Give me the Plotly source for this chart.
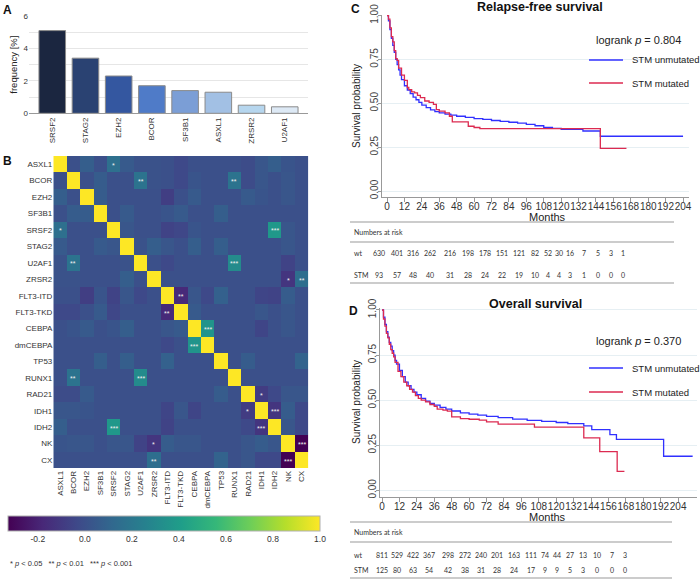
import plotly.graph_objects as go

W, H = 700, 586
def px(x): return x / W
def py(y): return 1 - y / H

# ---------------- DATA ----------------
genes_a = ["SRSF2", "STAG2", "EZH2", "BCOR", "SF3B1", "ASXL1", "ZRSR2", "U2AF1"]
freq_a = [5.1, 3.4, 2.3, 1.7, 1.4, 1.3, 0.5, 0.4]
bar_colors = ["#1b2640", "#2a4272", "#3457a0", "#4f7bc8", "#7b9ed6", "#a2c0e4", "#b6d6ee", "#dde9f5"]

hm_labels = ["ASXL1", "BCOR", "EZH2", "SF3B1", "SRSF2", "STAG2", "U2AF1", "ZRSR2",
             "FLT3-ITD", "FLT3-TKD", "CEBPA", "dmCEBPA", "TP53", "RUNX1", "RAD21",
             "IDH1", "IDH2", "NK", "CX"]
# lower triangle of correlation matrix (row i, cols 0..i-1)
corr_lower = [
    [],
    [0.00],
    [0.07, 0.00],
    [0.00, 0.06, 0.06],
    [0.16, 0.00, 0.00, 0.00],
    [0.05, 0.00, 0.00, 0.05, 0.03],
    [0.01, 0.18, 0.00, 0.00, 0.00, 0.01],
    [0.01, 0.01, 0.00, 0.00, 0.00, 0.07, 0.00],
    [0.00, 0.00, -0.08, 0.02, -0.06, 0.03, -0.03, 0.00],
    [-0.03, -0.03, 0.00, 0.05, -0.04, 0.00, 0.00, 0.00, -0.17],
    [0.00, 0.02, 0.05, 0.00, 0.02, 0.07, 0.00, 0.00, 0.03, 0.05],
    [0.00, 0.00, 0.00, 0.00, 0.00, 0.00, 0.00, 0.00, -0.03, 0.00, 0.36],
    [0.00, 0.00, 0.00, 0.07, 0.00, 0.07, 0.00, 0.00, 0.08, 0.00, 0.00, 0.00],
    [0.00, 0.18, 0.00, 0.00, 0.00, 0.00, 0.31, 0.00, 0.00, 0.00, 0.00, 0.00, 0.00],
    [-0.02, -0.02, 0.05, 0.00, 0.00, 0.00, 0.00, 0.00, 0.00, 0.00, 0.00, 0.00, 0.06, 0.00],
    [0.03, 0.03, 0.02, 0.00, 0.00, 0.00, 0.00, 0.00, -0.05, 0.03, -0.05, 0.00, 0.00, 0.00, -0.09],
    [0.07, 0.00, 0.00, 0.00, 0.38, 0.00, 0.00, 0.00, -0.06, 0.00, 0.00, 0.00, 0.00, 0.00, -0.03, -0.12],
    [0.02, 0.03, 0.03, 0.00, 0.03, 0.03, -0.06, -0.12, 0.06, 0.03, 0.03, 0.00, 0.00, 0.00, 0.03, 0.06, 0.03],
    [0.00, 0.00, 0.00, 0.00, 0.00, 0.00, 0.00, 0.15, 0.00, 0.00, 0.00, 0.00, 0.09, 0.00, 0.03, -0.03, -0.03, -0.33],
]
sig_pairs = [("SRSF2", "ASXL1", "*"), ("U2AF1", "BCOR", "**"), ("RUNX1", "BCOR", "**"),
             ("IDH2", "SRSF2", "***"), ("RUNX1", "U2AF1", "***"), ("NK", "ZRSR2", "*"),
             ("CX", "ZRSR2", "**"), ("FLT3-TKD", "FLT3-ITD", "**"), ("dmCEBPA", "CEBPA", "***"),
             ("IDH1", "RAD21", "*"), ("IDH2", "IDH1", "***"), ("CX", "NK", "***")]
cb_ticks = [-0.2, 0.0, 0.2, 0.4, 0.6, 0.8, 1.0]

# Relapse-free survival
rfs_wt_t = [0, 1, 2, 3, 4, 5, 6, 7, 8, 9, 10, 12, 14, 16, 18, 20, 22, 24, 27, 30, 33, 36, 40, 44, 48,
            54, 60, 66, 72, 78, 84, 90, 96, 102, 108, 114, 120, 135, 147, 204]
rfs_wt_s = [1.0, 0.97, 0.92, 0.87, 0.83, 0.79, 0.75, 0.72, 0.69, 0.66, 0.635, 0.60, 0.575, 0.555, 0.535,
            0.52, 0.505, 0.49, 0.475, 0.462, 0.452, 0.445, 0.438, 0.432, 0.426, 0.42, 0.413, 0.408, 0.402,
            0.397, 0.392, 0.387, 0.38, 0.372, 0.362, 0.357, 0.352, 0.342, 0.312, 0.312]
rfs_mut_t = [0, 1, 2, 3, 4, 5, 6, 7, 8, 10, 12, 14, 15, 17, 19, 21, 23, 26, 29, 32, 34, 36, 40, 43,
             45, 56, 60, 64, 147, 165]
rfs_mut_s = [1.0, 0.98, 0.93, 0.88, 0.85, 0.80, 0.755, 0.745, 0.70, 0.66, 0.63, 0.59, 0.578, 0.565,
             0.559, 0.545, 0.532, 0.513, 0.505, 0.494, 0.464, 0.455, 0.445, 0.426, 0.394, 0.369, 0.362,
             0.356, 0.243, 0.243]
# Overall survival
os_wt_t = [0, 1, 2, 3, 4, 5, 6, 7, 8, 9, 10, 12, 14, 16, 18, 20, 22, 24, 27, 30, 33, 36, 40, 44, 48,
           54, 60, 66, 72, 80, 90, 100, 110, 120, 128, 139, 144.5, 157, 161.5, 194, 214]
os_wt_s = [1.0, 0.96, 0.92, 0.88, 0.85, 0.82, 0.80, 0.775, 0.75, 0.72, 0.70, 0.665, 0.63, 0.60, 0.58,
           0.56, 0.545, 0.53, 0.51, 0.495, 0.482, 0.472, 0.46, 0.45, 0.44, 0.43, 0.422, 0.417, 0.41,
           0.403, 0.395, 0.388, 0.382, 0.376, 0.37, 0.357, 0.337, 0.309, 0.283, 0.189, 0.189]
os_mut_t = [0, 1, 2, 3, 4, 5, 6, 7, 8, 9, 11, 13, 15, 17, 19, 21, 23, 25, 27, 30, 33, 36, 38, 42, 45,
            48, 54, 60, 67, 72, 80, 105, 139, 150, 162, 167]
os_mut_s = [1.0, 0.95, 0.91, 0.87, 0.845, 0.81, 0.78, 0.76, 0.74, 0.71, 0.66, 0.63, 0.60, 0.58, 0.56,
            0.545, 0.525, 0.51, 0.50, 0.49, 0.476, 0.465, 0.45, 0.445, 0.439, 0.407, 0.398, 0.394,
            0.389, 0.38, 0.367, 0.35, 0.291, 0.215, 0.105, 0.105]

month_ticks = list(range(0, 205, 12))
surv_ticks = [0.0, 0.25, 0.5, 0.75, 1.0]
surv_ticktext = ["0.00", "0.25", "0.50", "0.75", "1.00"]

rfs_risk_wt = [630, 401, 316, 262, 216, 198, 178, 151, 121, 82, 52, 30, 16, 7, 5, 3, 1]
rfs_risk_stm = [93, 57, 48, 40, 31, 28, 24, 22, 19, 10, 4, 4, 3, 1, 0, 0, 0]
os_risk_wt = [811, 529, 422, 367, 298, 272, 240, 201, 163, 111, 74, 44, 27, 13, 10, 7, 3]
os_risk_stm = [125, 80, 63, 54, 42, 38, 31, 28, 24, 17, 9, 9, 5, 3, 0, 0, 0]
rfs_p = "0.804"
os_p = "0.370"

# ---------------- LAYOUT POSITIONS (pixels) ----------------
rfs_cols_px = [379, 397, 413, 430, 450, 468, 485, 502, 519, 535, 548, 559, 570, 584, 598, 611, 623]
os_cols_px = [382, 397, 413, 429, 448, 465, 481, 497, 514, 531, 545, 557, 570, 583, 597, 612, 625]

BLUE = "#3030ff"
RED = "#dc2a50"
FONT = "Liberation Sans, Arial, sans-serif"

# build matrix
n = len(hm_labels)
z = [[1.0] * n for _ in range(n)]
for i, row in enumerate(corr_lower):
    for j, v in enumerate(row):
        z[i][j] = v
        z[j][i] = v

fig = go.Figure()

# Panel A
fig.add_trace(go.Bar(x=genes_a, y=freq_a, marker=dict(color=bar_colors, line=dict(color="#8a8a8a", width=1)),
                     xaxis="x", yaxis="y", showlegend=False, width=0.8))

# Panel B
fig.add_trace(go.Heatmap(z=z, x=hm_labels, y=hm_labels, colorscale="Viridis", zmin=-0.327, zmax=1.0,
                         xaxis="x2", yaxis="y2", showscale=True,
                         colorbar=dict(orientation="h", lenmode="pixels", len=312, thickness=15,
                                       x=px(164), xanchor="center", y=py(529), yanchor="middle",
                                       tickvals=cb_ticks, ticktext=[f"{v:.1f}" for v in cb_ticks],
                                       ticks="", tickfont=dict(size=8.5, color="#333", family=FONT),
                                       outlinecolor="#b0b0b0", outlinewidth=1, ypad=0, xpad=0)))

# Panels C, D
for t, s, col, xa, ya in [(rfs_wt_t, rfs_wt_s, BLUE, "x3", "y3"), (rfs_mut_t, rfs_mut_s, RED, "x3", "y3"),
                          (os_wt_t, os_wt_s, BLUE, "x4", "y4"), (os_mut_t, os_mut_s, RED, "x4", "y4")]:
    fig.add_trace(go.Scatter(x=t, y=s, mode="lines", line=dict(color=col, width=1.3, shape="hv"),
                             xaxis=xa, yaxis=ya, showlegend=False, hoverinfo="skip"))

tickfont_small = dict(size=8, color="#333", family=FONT)
surv_common_y = dict(tickvals=surv_ticks, ticktext=surv_ticktext, tickangle=-90, automargin=False,
                     showgrid=True, gridcolor="#e6eff3", gridwidth=1, zeroline=False,
                     showline=True, linecolor="#999", linewidth=1, ticks="outside", ticklen=3,
                     ticklabelstandoff=-4,
                     tickcolor="#999", tickfont=dict(size=10, color="#444", family=FONT))
surv_common_x = dict(tickvals=month_ticks, showgrid=False, zeroline=False, showline=True, automargin=False,
                     linecolor="#999", linewidth=1, ticks="outside", ticklen=4, tickcolor="#999", tickangle=0,
                     ticklabelstandoff=-4,
                     tickfont=dict(size=10, color="#333", family=FONT))

fig.update_layout(
    template="none",
    width=W, height=H, margin=dict(l=0, r=0, t=0, b=0, pad=0, autoexpand=False),
    paper_bgcolor="white", plot_bgcolor="white",
    font=dict(family=FONT, color="#222"),
    xaxis=dict(domain=[px(29), px(308)], range=[-0.7, 7.7], anchor="y", tickangle=-90, automargin=False,
               showline=True, linecolor="#999", linewidth=1, ticks="", tickfont=tickfont_small,
               showgrid=False, zeroline=False),
    yaxis=dict(domain=[py(113.3), py(16)], range=[0, 6], anchor="x", dtick=2, showgrid=True, automargin=False,
               gridcolor="#e6e6e6", zeroline=False, tickfont=tickfont_small, ticks="", showline=False,
               minor=dict(dtick=1, showgrid=True, gridcolor="#e6e6e6"),
               title=dict(text="frequency [%]", font=dict(size=9.5, color="#222"), standoff=4)),
    xaxis2=dict(domain=[px(53.3), px(308.3)], anchor="y2", tickangle=-90, tickfont=tickfont_small,
                showgrid=False, ticks="", automargin=False, zeroline=False, showline=False),
    yaxis2=dict(domain=[py(468.3), py(156)], anchor="x2", autorange="reversed", tickfont=tickfont_small,
                showgrid=False, ticks="", automargin=False, zeroline=False, showline=False),
    xaxis3=dict(domain=[px(382), px(689)], range=[-3.45, 208.1], anchor="y3", **surv_common_x),
    yaxis3=dict(domain=[py(197), py(15)], range=[-0.034, 1.003], anchor="x3", **surv_common_y),
    xaxis4=dict(domain=[px(380), px(697)], range=[-1.4, 217], anchor="y4", **surv_common_x),
    yaxis4=dict(domain=[py(497), py(308)], range=[-0.037, 1.011], anchor="x4", **surv_common_y),
)

ann = []
shapes = []
def txt(x, y, s, size=10, bold=False, color="#222", xanchor="center", angle=0, family=FONT):
    ann.append(dict(x=px(x), y=py(y), xref="paper", yref="paper", text=(f"<b>{s}</b>" if bold else s),
                    showarrow=False, xanchor=xanchor, yanchor="middle", textangle=angle,
                    font=dict(size=size, color=color, family=family)))

# panel letters
txt(7, 10, "A", 12, True, "#111")
txt(7, 161, "B", 12, True, "#111")
txt(355, 9, "C", 12, True, "#111")
txt(354, 311, "D", 12, True, "#111")

# stars in heatmap
for a, b, lab in sig_pairs:
    for xx, yy in [(b, a), (a, b)]:
        ann.append(dict(x=xx, y=yy, xref="x2", yref="y2", text=lab, showarrow=False, yshift=-1,
                        font=dict(size=7, color="#f0f0f0", family=FONT)))

txt(8, 563, "* <i>p</i> &lt; 0.05   ** <i>p</i> &lt; 0.01   *** <i>p</i> &lt; 0.001", 7.5, False, "#333", "left")

# Survival panels text
for (title, tx, ty, ylab_y, months_y, p, py_p, yl1, yl2) in [
        ("Relapse-free survival", 540, 7, 106, 217, rfs_p, 40, 60, 83),
        ("Overall survival", 535, 304, 402, 517, os_p, 341, 368, 392)]:
    txt(tx, ty, title, 12.5, True, "#111")
    txt(356, ylab_y, "Survival probability", 10, False, "#222", angle=-90)
    txt(547, months_y, "Months", 11, False, "#222")
    txt(594, py_p, f"logrank <i>p</i> = {p}", 11, False, "#222", "left")
    for yy, col, lab in [(yl1, BLUE, "STM unmutated"), (yl2, RED, "STM mutated")]:
        shapes.append(dict(type="line", xref="paper", yref="paper", x0=px(589), x1=px(623), y0=py(yy), y1=py(yy),
                           line=dict(color=col, width=1.3)))
        txt(630, yy, lab, 9.5, False, "#222", "left")

# risk tables
TFONT = "Lato, Open Sans, sans-serif"
for (top, hdr, mid, ywt, ystm, bot, right, cols, wt, stm) in [
        (222, 232, 242, 253, 275, 283, 674, rfs_cols_px, rfs_risk_wt, rfs_risk_stm),
        (522, 532, 542, 555, 570, 578, 672, os_cols_px, os_risk_wt, os_risk_stm)]:
    for yy in (top, mid, bot):
        shapes.append(dict(type="line", xref="paper", yref="paper", x0=px(350), x1=px(right), y0=py(yy), y1=py(yy),
                           line=dict(color="#9a9a9a", width=1.2)))
    txt(352, hdr, "Numbers at risk", 7, False, "#333", "left", family=TFONT)
    txt(352, ywt, "wt", 7, False, "#333", "left", family=TFONT)
    txt(352, ystm, "STM", 7, False, "#333", "left", family=TFONT)
    for xc, a, b in zip(cols, wt, stm):
        txt(xc, ywt, str(a), 7, False, "#333", family=TFONT)
        txt(xc, ystm, str(b), 7, False, "#333", family=TFONT)

fig.update_layout(annotations=ann, shapes=shapes)
fig.write_html("out.html", config={"displayModeBar": False},
               post_script="document.body.style.margin='0';document.body.style.overflow='hidden';")
